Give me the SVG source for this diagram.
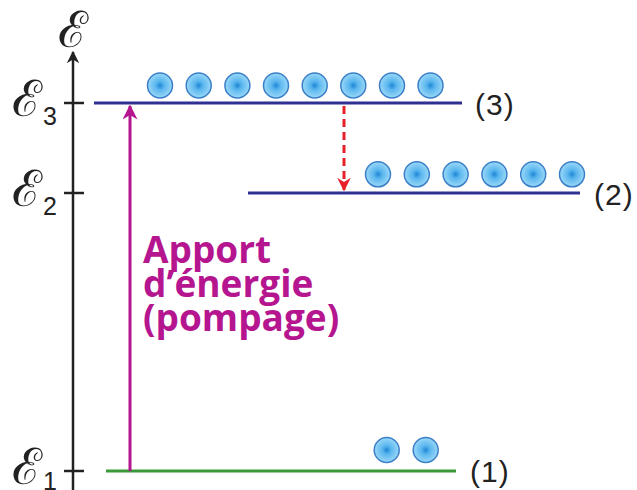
<svg xmlns="http://www.w3.org/2000/svg" width="637" height="490" viewBox="0 0 637 490">
<defs>
<radialGradient id="g" cx="0.5" cy="0.5" r="0.5">
<stop offset="0" stop-color="#1f86d6"/>
<stop offset="0.35" stop-color="#5ab6ee"/>
<stop offset="1" stop-color="#9ad8f8"/>
</radialGradient>
<marker id="ak" viewBox="0 0 10 10" refX="9" refY="5" markerWidth="5" markerHeight="5" orient="auto"><path d="M0,0 L10,5 L0,10 L3,5 z" fill="#222"/></marker>
<marker id="am" viewBox="0 0 10 10" refX="9" refY="5" markerWidth="5" markerHeight="5" orient="auto"><path d="M0,0 L10,5 L0,10 L3,5 z" fill="#b5158f"/></marker>
<marker id="ar" viewBox="0 0 10 10" refX="9" refY="5" markerWidth="4.5" markerHeight="4.5" orient="auto"><path d="M0,0 L10,5 L0,10 L3,5 z" fill="#e8202a"/></marker>
</defs>
<style>
.e{stroke:#3b7fc8;stroke-width:1.5;fill:url(#g)}
.lvl{stroke:#2e3192;stroke-width:3}
.lab{font-family:"Liberation Sans",Arial,sans-serif;font-size:30px;letter-spacing:1px;fill:#222}
.sc{font-family:"DejaVu Serif","Liberation Serif",serif;font-size:50px;fill:#222}
.sub{font-family:"Liberation Sans",Arial,sans-serif;font-size:25px;fill:#222}
.mg{font-family:"Open Sans","Liberation Sans",sans-serif;font-weight:bold;font-size:37px;fill:#b5158f}
</style>
<g id="axis">
<line x1="73" y1="490" x2="73" y2="52" stroke="#222" stroke-width="2.5" marker-end="url(#ak)"/>
<text class="sc" x="73" y="47" text-anchor="middle">ℰ</text>
<line x1="64" y1="103" x2="84" y2="103" stroke="#222" stroke-width="2.5"/>
<line x1="64" y1="193" x2="84" y2="193" stroke="#222" stroke-width="2.5"/>
<line x1="64" y1="471" x2="84" y2="471" stroke="#222" stroke-width="2.5"/>
<text class="sc" x="12" y="116">ℰ</text><text class="sub" x="43" y="125">3</text>
<text class="sc" x="12" y="206">ℰ</text><text class="sub" x="43" y="215">2</text>
<text class="sc" x="12" y="484">ℰ</text><text class="sub" x="43" y="490">1</text>
</g>
<g id="level3">
<line class="lvl" x1="94" y1="103" x2="462" y2="103"/>
<text class="lab" x="475" y="115">(3)</text>
<circle class="e" cx="160" cy="85.5" r="12.5"/>
<circle class="e" cx="198.7" cy="85.5" r="12.5"/>
<circle class="e" cx="237.4" cy="85.5" r="12.5"/>
<circle class="e" cx="276" cy="85.5" r="12.5"/>
<circle class="e" cx="314.7" cy="85.5" r="12.5"/>
<circle class="e" cx="353.3" cy="85.5" r="12.5"/>
<circle class="e" cx="392" cy="85.5" r="12.5"/>
<circle class="e" cx="430.5" cy="85.5" r="12.5"/>
</g>
<g id="level2">
<line class="lvl" x1="248" y1="193" x2="580" y2="193"/>
<text class="lab" x="594" y="205">(2)</text>
<circle class="e" cx="378" cy="174.3" r="12.5"/>
<circle class="e" cx="416.8" cy="174.3" r="12.5"/>
<circle class="e" cx="455.6" cy="174.3" r="12.5"/>
<circle class="e" cx="494.4" cy="174.3" r="12.5"/>
<circle class="e" cx="533.2" cy="174.3" r="12.5"/>
<circle class="e" cx="572" cy="174.3" r="12.5"/>
</g>
<g id="level1">
<line x1="106" y1="471" x2="456" y2="471" stroke="#3a9a3a" stroke-width="3"/>
<text class="lab" x="470" y="482">(1)</text>
<circle class="e" cx="386.7" cy="450" r="12.5"/>
<circle class="e" cx="425.7" cy="450" r="12.5"/>
</g>
<g id="connectors">
<line x1="130" y1="471" x2="130" y2="106" stroke="#b5158f" stroke-width="3" marker-end="url(#am)"/>
<line x1="344" y1="106" x2="344" y2="190" stroke="#e8202a" stroke-width="3" stroke-dasharray="8,5" marker-end="url(#ar)"/>
</g>
<g id="label">
<text class="mg" x="143" y="263">Apport</text>
<text class="mg" x="143" y="297">d’énergie</text>
<text class="mg" x="143" y="331">(pompage)</text>
</g>
</svg>
